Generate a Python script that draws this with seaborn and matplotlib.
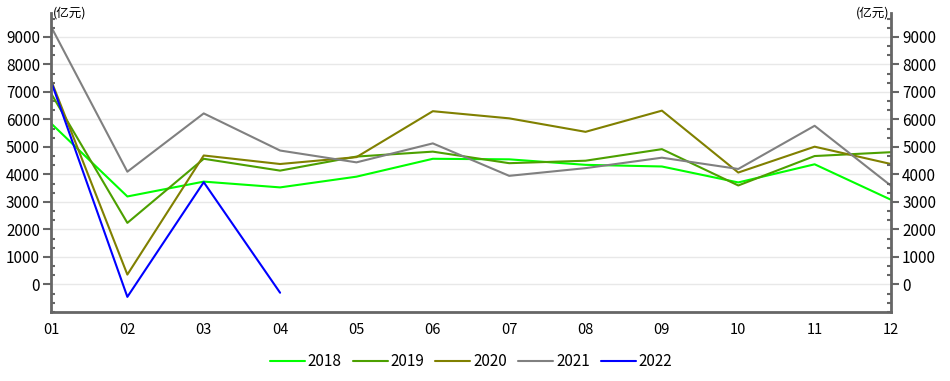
import numpy as np
import pandas as pd
import matplotlib
matplotlib.use("Agg")
import matplotlib.pyplot as plt
import seaborn as sns
from matplotlib.ticker import MultipleLocator

months = ["01", "02", "03", "04", "05", "06", "07", "08", "09", "10", "11", "12"]
v2018 = [5860, 3200, 3740, 3530, 3920, 4570, 4550, 4350, 4290, 3710, 4370, 3080]
v2019 = [6950, 2240, 4570, 4140, 4650, 4830, 4410, 4500, 4920, 3600, 4670, 4810]
v2020 = [7430, 360, 4690, 4380, 4630, 6300, 6040, 5550, 6320, 4070, 5010, 4380]
v2021 = [9380, 4100, 6220, 4870, 4440, 5130, 3950, 4230, 4610, 4200, 5770, 3590]
v2022 = [7390, -450, 3720, -300]
years = ["2018", "2019", "2020", "2021", "2022"]
colors = ["#00FF00", "#4CA000", "#808000", "#808080", "#0000FF"]
unit_label = "(亿元)"

series = [v2018, v2019, v2020, v2021, v2022]
rows = []
for y, vals in zip(years, series):
    for i, v in enumerate(vals):
        rows.append({"month": i, "value": v, "year": y})
df = pd.DataFrame(rows)

sns.set_style("white")
plt.rcParams["font.family"] = ["Noto Sans CJK SC", "DejaVu Sans"]
plt.rcParams["text.color"] = "black"

fig = plt.figure(figsize=(9.5, 3.81), dpi=100)
ax = fig.add_axes([51/950, 1 - 312/381, (891-51)/950, (312-13)/381])

sns.lineplot(data=df, x="month", y="value", hue="year", palette=dict(zip(years, colors)),
             linewidth=1.5, ax=ax, legend=True, estimator=None, sort=False)

ymin, ymax = -1000, 9870
ax.set_xlim(0, 11)
ax.set_ylim(ymin, ymax)
ax.set_xticks(range(12))
ax.set_xticklabels(months, fontsize=10.5)
ax.set_yticks(range(0, 10000, 1000))
ax.yaxis.set_minor_locator(MultipleLocator(1000/3))
ax.set_xlabel("")
ax.set_ylabel("")
ax.grid(axis="y", color="#e8e8e8", linewidth=1)
ax.set_axisbelow(True)

spine_c = "#666666"
for s in ["top", "right"]:
    ax.spines[s].set_visible(False)
for s in ["left", "bottom"]:
    ax.spines[s].set_color(spine_c)
    ax.spines[s].set_linewidth(2)
ax.tick_params(axis="y", which="major", direction="out", length=6, width=1.5, color=spine_c,
               labelsize=11, pad=2, labelcolor="black")
ax.tick_params(axis="y", which="minor", direction="in", length=3, width=1.5, color=spine_c)
ax.tick_params(axis="x", which="major", direction="out", length=6, width=2, color=spine_c,
               labelsize=10.5, pad=2, labelcolor="black")

ax2 = ax.twinx()
ax2.set_ylim(ymin, ymax)
ax2.set_yticks(range(0, 10000, 1000))
ax2.yaxis.set_minor_locator(MultipleLocator(1000/3))
for s in ["top", "left", "bottom"]:
    ax2.spines[s].set_visible(False)
ax2.spines["right"].set_color(spine_c)
ax2.spines["right"].set_linewidth(2)
ax2.tick_params(axis="y", which="major", direction="out", length=6, width=1.5, color=spine_c,
                labelsize=11, pad=2, labelcolor="black")
ax2.tick_params(axis="y", which="minor", direction="in", length=3, width=1.5, color=spine_c)

ax.text(0.002, 1.0, unit_label, transform=ax.transAxes, ha="left", va="center", fontsize=9, color="black")
ax2.text(0.998, 1.0, unit_label, transform=ax2.transAxes, ha="right", va="center", fontsize=9, color="black")

handles, labels = ax.get_legend_handles_labels()
ax.get_legend().remove()
fig.legend(handles, labels, loc="center", bbox_to_anchor=(471/950, 1 - 362/381), ncol=5,
           frameon=False, fontsize=11, handlelength=2.3, handletextpad=0.2, columnspacing=0.7)

fig.savefig("out.png", dpi=100)
